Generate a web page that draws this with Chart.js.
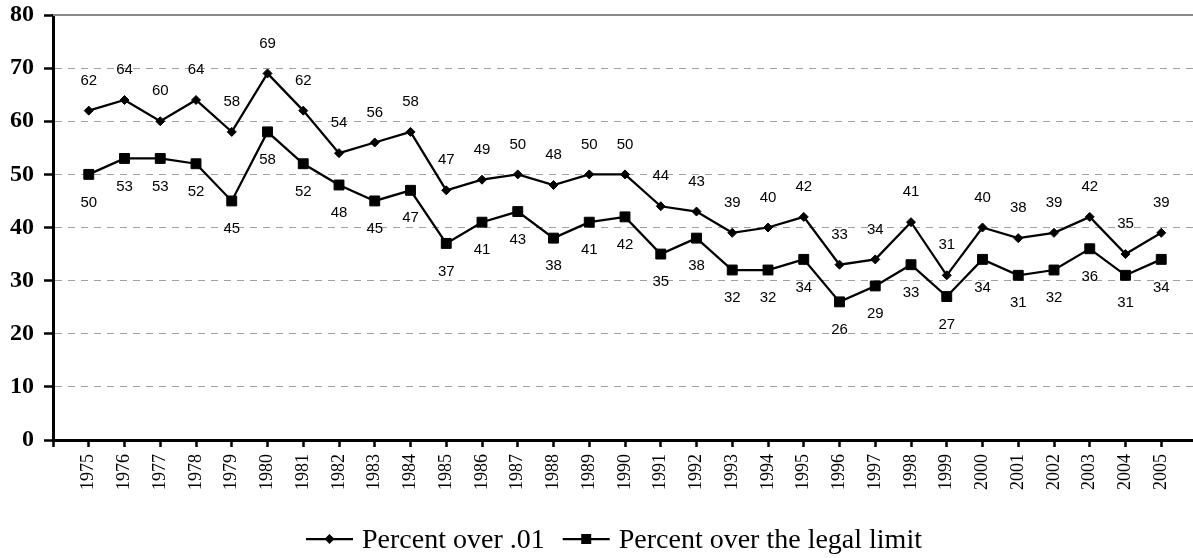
<!DOCTYPE html>
<html><head><meta charset="utf-8">
<script src="https://cdn.jsdelivr.net/npm/chart.js@4"></script>
<style>html,body{margin:0;padding:0;overflow:hidden;background:#fff}canvas{display:block}</style>
</head><body>
<canvas id="c" width="1197" height="558" style="width:1197px;height:558px"></canvas>
<script>
const years = [1975,1976,1977,1978,1979,1980,1981,1982,1983,1984,1985,1986,1987,1988,1989,1990,1991,1992,1993,1994,1995,1996,1997,1998,1999,2000,2001,2002,2003,2004,2005];
const overPoint01 = [62,64,60,64,58,69,62,54,56,58,47,49,50,48,50,50,44,43,39,40,42,33,34,41,31,40,38,39,42,35,39];
const overLegal = [50,53,53,52,45,58,52,48,45,47,37,41,43,38,41,42,35,38,32,32,34,26,29,33,27,34,31,32,36,31,34];
const seriesNames = ['Percent over .01', 'Percent over the legal limit'];
const yMin = 0, yMax = 80, yStep = 10;

const SERIF = '"Liberation Serif", "Times New Roman", serif';
const SANS = '"Liberation Sans", Arial, sans-serif';

const dataLabels = {
  id: 'dataLabels',
  afterDatasetsDraw(chart) {
    const ctx = chart.ctx;
    ctx.save();
    ctx.font = '15px ' + SANS;
    ctx.fillStyle = '#000';
    ctx.textAlign = 'center';
    ctx.textBaseline = 'middle';
    chart.data.datasets.forEach((ds, di) => {
      const meta = chart.getDatasetMeta(di);
      meta.data.forEach((pt, i) => {
        const off = di === 0 ? -30 : 28;
        ctx.fillText(String(ds.data[i].y), pt.x, pt.y + off);
      });
    });
    ctx.restore();
  }
};

const topLine = {
  id: 'topLine',
  beforeDatasetsDraw(chart) {
    const ctx = chart.ctx, a = chart.chartArea;
    const y = chart.scales.y.getPixelForValue(yMax);
    ctx.save();
    ctx.strokeStyle = '#8a8a8a';
    ctx.lineWidth = 2;
    ctx.beginPath();
    ctx.moveTo(a.left, y);
    ctx.lineTo(a.right, y);
    ctx.stroke();
    ctx.restore();
  }
};

const customLegend = {
  id: 'customLegend',
  afterDraw(chart) {
    const ctx = chart.ctx;
    ctx.save();
    ctx.font = '28px ' + SERIF;
    ctx.fillStyle = '#000';
    ctx.textBaseline = 'alphabetic';
    ctx.textAlign = 'left';
    let x = 306;
    const lineY = 539, baseY = 548, lineLen = 47, gapText = 9, gapItem = 18;
    chart.data.datasets.forEach((ds, di) => {
      ctx.strokeStyle = '#000';
      ctx.lineWidth = 2.25;
      ctx.beginPath();
      ctx.moveTo(x, lineY);
      ctx.lineTo(x + lineLen, lineY);
      ctx.stroke();
      const cx = x + lineLen / 2;
      ctx.beginPath();
      if (di === 0) {
        const r = 5;
        ctx.moveTo(cx, lineY - r); ctx.lineTo(cx + r, lineY); ctx.lineTo(cx, lineY + r); ctx.lineTo(cx - r, lineY); ctx.closePath();
      } else {
        ctx.rect(cx - 5, lineY - 5, 10, 10);
      }
      ctx.fill();
      x += lineLen + gapText;
      ctx.fillText(ds.label, x, baseY);
      x += ctx.measureText(ds.label).width + gapItem;
    });
    ctx.restore();
  }
};

const mk = (vals) => vals.map((v, i) => ({x: years[i], y: v}));
const noPad = (s) => { s.paddingLeft = 0; s.paddingRight = 0; s.paddingTop = 0; s.paddingBottom = 0; };

new Chart(document.getElementById('c'), {
  type: 'line',
  data: {
    datasets: [
      {label: seriesNames[0], data: mk(overPoint01), borderColor: '#000', backgroundColor: '#000', borderWidth: 2.25,
       pointStyle: 'rectRot', pointRadius: 4.5, pointBorderWidth: 1, pointBackgroundColor: '#000', pointBorderColor: '#000', tension: 0},
      {label: seriesNames[1], data: mk(overLegal), borderColor: '#000', backgroundColor: '#000', borderWidth: 2.25,
       pointStyle: 'rect', pointRadius: 7, pointBorderWidth: 1, pointBackgroundColor: '#000', pointBorderColor: '#000', tension: 0}
    ]
  },
  options: {
    responsive: false,
    devicePixelRatio: 1,
    animation: false,
    layout: {autoPadding: false, padding: {top: 15, left: 0, right: 0, bottom: 0}},
    plugins: {legend: {display: false}, tooltip: {enabled: false}, title: {display: false}},
    scales: {
      x: {
        type: 'linear',
        min: years[0] - 1,
        max: years[years.length - 1] + 1,
        afterFit(s) { s.height = 118; noPad(s); },
        afterBuildTicks(s) {
          const t = [];
          for (let v = years[0] - 1; v <= years[years.length - 1] + 1; v++) t.push({value: v});
          s.ticks = t;
        },
        ticks: {
          autoSkip: false, minRotation: 90, maxRotation: 90, padding: 7, color: '#000',
          font: {family: SERIF, size: 18},
          callback: (v) => years.includes(v) ? String(v) : ''
        },
        grid: {drawOnChartArea: false, drawTicks: true, tickLength: 7, tickColor: '#000', tickWidth: 2.5, color: '#000'},
        border: {display: true, color: '#000', width: 3}
      },
      y: {
        min: yMin, max: yMax,
        afterFit(s) { s.width = 53; noPad(s); },
        ticks: {stepSize: yStep, padding: 10, color: '#000', font: {family: SERIF, size: 24, weight: 'bold'}},
        grid: {
          color: (c) => (c.tick && (c.tick.value === yMax || c.tick.value === yMin)) ? 'rgba(0,0,0,0)' : '#a0a0a0',
          lineWidth: 1, tickLength: 9, tickColor: '#000', tickWidth: 2.5, tickBorderDash: []
        },
        border: {display: true, color: '#000', width: 3, dash: [7, 6]}
      }
    }
  },
  plugins: [topLine, dataLabels, customLegend]
});
</script>
</body></html>
